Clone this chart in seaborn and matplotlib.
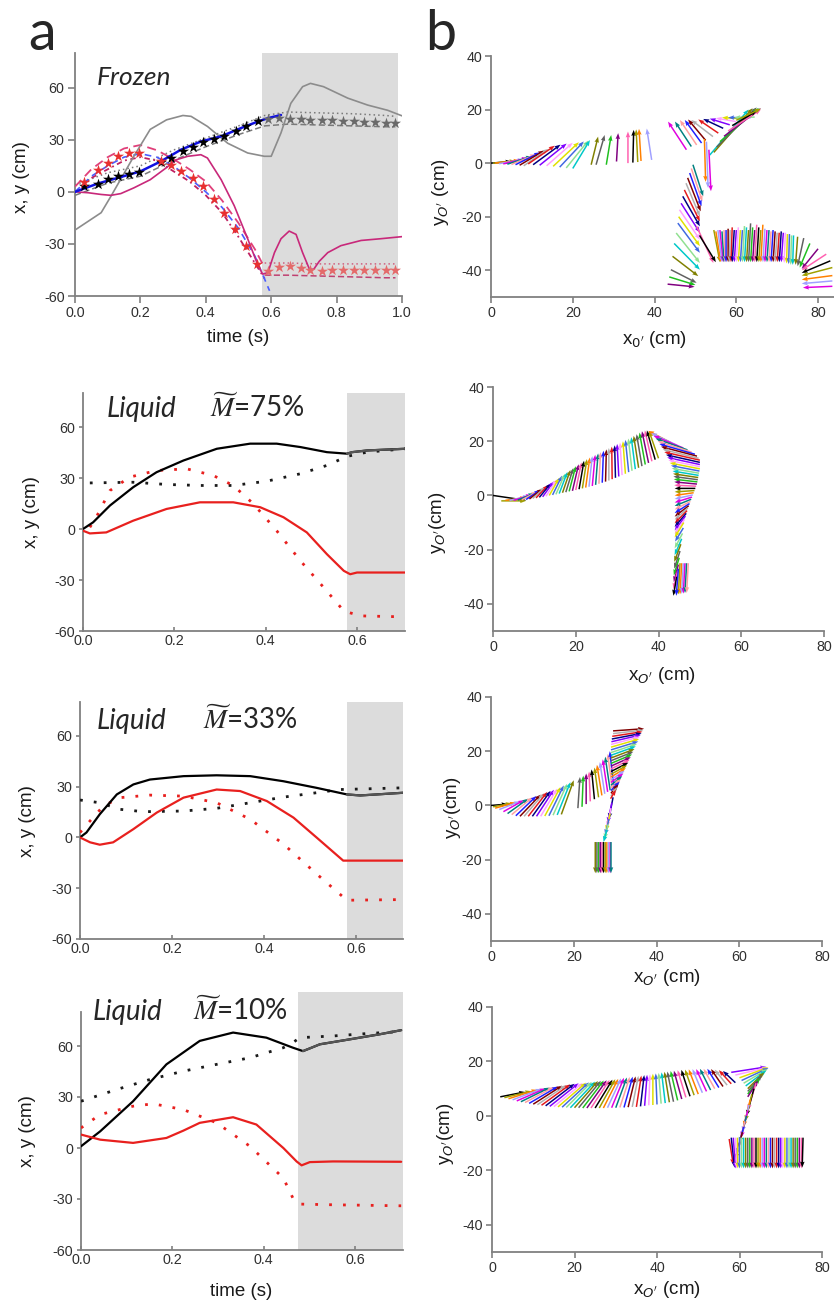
import numpy as np
import pandas as pd
import matplotlib
matplotlib.use("Agg")
import matplotlib.pyplot as plt
from matplotlib.ticker import MultipleLocator
import seaborn as sns

sns.set_theme(style="ticks")
plt.rcParams["font.family"] = ["Liberation Sans", "DejaVu Sans"]
plt.rcParams["axes.unicode_minus"] = False

# ---------------- DATA: panel a (time series) ----------------
# Frozen
fz_gray_t = [0, 0.08, 0.11, 0.18, 0.23, 0.28, 0.33, 0.355, 0.405, 0.467, 0.528, 0.579, 0.6, 0.63, 0.66, 0.696, 0.72, 0.76, 0.834, 0.895, 0.956, 1.0]
fz_gray_y = [-22, -12, -2.5, 20.5, 36, 41.5, 44, 43.5, 37.7, 28, 22.4, 20.5, 20.5, 34, 51, 60.6, 62.5, 60.6, 54, 50, 47, 43.8]
fz_mag_t = [0, 0.04, 0.08, 0.11, 0.14, 0.18, 0.23, 0.28, 0.31, 0.345, 0.385, 0.405, 0.447, 0.487, 0.528, 0.56, 0.574, 0.59, 0.61, 0.63, 0.655, 0.676, 0.696, 0.717, 0.73, 0.747, 0.773, 0.813, 0.875, 0.935, 1.0]
fz_mag_y = [0, -0.5, -1.5, -2, -1, 2.3, 7, 14, 18.5, 20.5, 21.4, 19.5, 7, -8, -27, -42.6, -47.4, -46.5, -35, -27, -22.6, -24.5, -35, -44.6, -44.6, -40, -35, -31, -28, -27, -25.8]
fz_blue_t = [0, 0.07, 0.13, 0.2, 0.263, 0.324, 0.385, 0.447, 0.507, 0.559, 0.589, 0.63]
fz_blue_y = [0, 4.8, 8, 11.8, 17.6, 24.3, 29, 32, 36.7, 40.5, 42.4, 44.3]
fz_bstar_t = [0.029, 0.069, 0.1, 0.13, 0.166, 0.197, 0.263, 0.293, 0.329, 0.36, 0.39, 0.426, 0.457, 0.493, 0.523, 0.559]
fz_bstar_y = [3.2, 4.8, 7.5, 9, 10.3, 11.3, 17, 19.5, 23.7, 25.8, 28.5, 30.6, 32.1, 35, 38.2, 40.7]
fz_gstar_t = [0.59, 0.625, 0.658, 0.69, 0.72, 0.755, 0.787, 0.82, 0.852, 0.885, 0.918, 0.95, 0.98]
fz_gstar_y = [42, 42.5, 42, 41.8, 41.5, 41.5, 41.3, 41, 40.8, 40.5, 40.2, 39.8, 39.5]
fz_rstar_t = [0.029, 0.069, 0.1, 0.13, 0.166, 0.197, 0.263, 0.293, 0.324, 0.36, 0.39, 0.426, 0.457, 0.49, 0.523, 0.556]
fz_rstar_y = [5.5, 12.8, 16.6, 20.5, 22.4, 22.4, 17.6, 15.7, 11.9, 8, 3.2, -4.4, -12, -21.6, -31, -41.7]
fz_pstar_t = [0.59, 0.625, 0.658, 0.69, 0.72, 0.755, 0.787, 0.82, 0.852, 0.885, 0.918, 0.95, 0.98]
fz_pstar_y = [-45.5, -43.5, -43, -44, -45, -45.5, -45, -45, -45, -45, -45, -45, -45]
fz_pk_up_t = [0, 0.05, 0.1, 0.15, 0.2, 0.25, 0.3, 0.35, 0.4, 0.45, 0.5, 0.55, 0.575]
fz_pk_up_y = [3, 13, 20, 25, 27, 24, 19, 13, 6, -5, -18, -33, -42]
fz_pk_lo_t = [0.02, 0.05, 0.1, 0.15, 0.2, 0.25, 0.3, 0.35, 0.4, 0.45, 0.5, 0.55, 0.58]
fz_pk_lo_y = [2, 8, 13, 18, 20, 18, 12, 6, -2, -12, -26, -41, -50]
fz_bd_t = [0, 0.05, 0.1, 0.15, 0.2, 0.25, 0.3, 0.35, 0.4, 0.45, 0.5, 0.55, 0.595]
fz_bd_y = [0, 9, 15, 20, 22, 20, 15, 8, 0, -9, -21, -37, -57]
fz_gd_t = [0, 0.1, 0.2, 0.3, 0.4, 0.5, 0.58, 0.65, 0.75, 0.85, 0.95, 0.98]
fz_gd_up_y = [4, 11, 15, 24, 31, 38, 44, 46, 45.5, 45, 44, 43.5]
fz_gd_lo_y = [-2, 5, 9, 18, 26, 33, 38, 39, 38.5, 38, 37.5, 37.5]
fz_pd_t = [0.58, 0.65, 0.75, 0.85, 0.95, 0.98]
fz_pd_up_y = [-41, -41, -41.5, -41.5, -41.5, -41.5]
fz_pd_lo_y = [-48, -48, -48.5, -49, -49.5, -49.5]

# Liquid 75%
l75_bk_t = [0, 0.022, 0.059, 0.11, 0.161, 0.22, 0.293, 0.366, 0.424, 0.476, 0.534, 0.578, 0.589, 0.622, 0.706]
l75_bk_y = [0, 3.9, 13.8, 24.6, 33.4, 40.3, 47.2, 50.2, 50.2, 48.2, 45.2, 44.3, 45.2, 46.2, 47.2]
l75_bd_t = [0.015, 0.06, 0.11, 0.183, 0.256, 0.329, 0.402, 0.476, 0.534, 0.578, 0.622, 0.706]
l75_bd_y = [27.1, 27.3, 27.5, 26.2, 25.6, 25.6, 28.1, 32.5, 37.4, 42.7, 45.2, 47.2]
l75_rd_t = [0, 0.015, 0.051, 0.11, 0.183, 0.256, 0.329, 0.388, 0.439, 0.49, 0.534, 0.571, 0.585, 0.6, 0.706]
l75_rd_y = [-1, -2.6, -2, 4.9, 11.8, 15.7, 15.7, 12.8, 6.9, -2, -14.8, -24.6, -26.6, -25.6, -25.6]
l75_rdot_t = [0.015, 0.029, 0.059, 0.102, 0.161, 0.227, 0.285, 0.329, 0.373, 0.424, 0.476, 0.527, 0.571, 0.607, 0.706]
l75_rdot_y = [1, 6.9, 22.6, 30.5, 34.4, 35.4, 31.5, 25.6, 14.8, -1, -18.7, -34.4, -48.2, -51.1, -51.7]

# Liquid 33%
l33_bk_t = [0, 0.014, 0.043, 0.08, 0.116, 0.152, 0.225, 0.297, 0.37, 0.442, 0.514, 0.58, 0.609, 0.645, 0.703]
l33_bk_y = [0, 2.9, 13.7, 25.4, 31.3, 34.2, 36.2, 36.7, 36.2, 33.2, 29.3, 25.4, 24.8, 25.4, 26.4]
l33_bd_t = [0, 0.043, 0.087, 0.138, 0.225, 0.297, 0.37, 0.442, 0.514, 0.565, 0.623, 0.703]
l33_bd_y = [22.1, 20.5, 16.6, 15.2, 15.6, 17.2, 20.5, 23.8, 26.4, 28.3, 28.7, 29.3]
l33_rd_t = [0, 0.022, 0.043, 0.072, 0.116, 0.167, 0.225, 0.297, 0.348, 0.406, 0.464, 0.514, 0.572, 0.703]
l33_rd_y = [0, -2.9, -4.3, -2.9, 4.9, 14.7, 23.5, 28.3, 27.4, 21.5, 11.7, 0, -13.7, -13.7]
l33_rdot_t = [0, 0.022, 0.051, 0.087, 0.152, 0.225, 0.297, 0.37, 0.442, 0.514, 0.58, 0.703]
l33_rdot_y = [2.9, 9.8, 18.6, 23.5, 25, 24.4, 20.5, 10.7, -3.9, -21.5, -37.1, -36.7]

# Liquid 10%
l10_bk_t = [0, 0.042, 0.114, 0.187, 0.26, 0.333, 0.406, 0.464, 0.486, 0.501, 0.523, 0.588, 0.654, 0.701]
l10_bk_y = [1, 9.8, 27.5, 49.2, 63, 67.9, 64.9, 59, 57, 58.6, 61, 63.9, 66.9, 69.3]
l10_bd_t = [0, 0.078, 0.151, 0.224, 0.297, 0.37, 0.443, 0.464, 0.479, 0.552, 0.625, 0.701]
l10_bd_y = [27.5, 34.4, 40.3, 45.2, 49.2, 53.1, 59, 62, 64.9, 65.9, 67.3, 68.5]
l10_rd_t = [0, 0.042, 0.114, 0.187, 0.224, 0.26, 0.333, 0.384, 0.443, 0.472, 0.483, 0.501, 0.552, 0.701]
l10_rd_y = [7.9, 4.9, 3, 5.9, 10.2, 14.8, 18.1, 13.8, 0, -7.9, -10.2, -8.3, -7.9, -8.1]
l10_rdot_t = [0, 0.042, 0.114, 0.158, 0.224, 0.297, 0.37, 0.443, 0.464, 0.479, 0.552, 0.701]
l10_rdot_y = [11.8, 19.7, 24.6, 26, 22.6, 14.8, 1, -17.7, -29.5, -33, -33.4, -34]

# shaded (post-release) intervals
shade_frozen = (0.572, 0.988)
shade_75 = (0.578, 0.705)
shade_33 = (0.58, 0.702)
shade_10 = (0.475, 0.705)

a_xticks_frozen = [0.0, 0.2, 0.4, 0.6, 0.8, 1.0]
a_xticks_liquid = [0.0, 0.2, 0.4, 0.6]
a_yticks = [-60, -30, 0, 30, 60]
b_xticks = [0, 20, 40, 60, 80]
b_yticks = [-40, -20, 0, 20, 40]

# ---------------- DATA: panel b (arrows: tail x, tail y, head x, head y) ----------------
b1_arrows = [
    (0, 0, 5, 0.6), (0.5, 0, 6, 0.8), (1, 0, 7, 1), (2, -0.2, 8, 1.4), (3, -0.3, 9, 2), (4, -0.4, 10, 2.6),
    (5, -0.5, 11, 3.3), (6, -0.6, 12, 4), (7, -0.8, 13, 4.7), (8, -1, 14, 5.3),
    (9.1, -0.3, 15.6, 6.5), (10.3, -0.6, 17, 6.9), (11.9, -0.8, 18.5, 7.3), (13.6, -1, 20, 7.6),
    (15.2, -1.2, 21.5, 7.8), (16.8, -1.5, 22.7, 8.1), (18.4, -1.8, 23.8, 8.4), (20, -2, 24.2, 8.6),
    (24.5, -0.6, 26.2, 9.9), (25.7, -0.6, 27.8, 10.5), (28.2, -0.6, 29.4, 10.5), (30.7, 0.6, 31.1, 11.2),
    (33.5, 0, 33.5, 11.8), (34.7, 0.2, 34.9, 12.4), (35.9, 0.4, 35.5, 12.6), (36.7, 0.8, 36.2, 12.8), (39.3, 1.2, 38.1, 12.9),
    (47.8, 5, 43.3, 15.5), (49, 6.2, 45, 15.5), (50.3, 6.8, 46.2, 16.1), (51.5, 7.5, 47.4, 16.1), (52.5, 8.5, 48.2, 16.3),
    (54.3, 9.9, 49, 16.1), (55.6, 11.2, 50.7, 16.3), (56.8, 13, 51.9, 16.5), (58.4, 14.3, 53.5, 16.6),
    (60, 15.5, 55, 16.8), (62, 16.5, 56.5, 17), (63.5, 17, 58, 17), (64.5, 17.2, 59.5, 17),
    (53.5, 3, 63, 20), (54.5, 4, 64, 20.5), (55.2, 6, 65, 20.8), (56, 8, 65.5, 20.6), (57, 10, 66, 20.5),
    (58, 12, 66, 20), (59, 14, 65, 19.5), (60, 16, 66, 20.3),
    (52.2, 9, 52.5, -7), (52.7, 8, 53.1, -9.3), (53.3, 5, 53.8, -10.5),
    (49.4, -0.6, 51.9, -12.4), (49, -2, 51.7, -14.3), (48.6, -3.7, 51.5, -16.1), (48.1, -5.5, 51.3, -18),
    (47.7, -7.5, 51.1, -19.9), (47.3, -10, 51.1, -21.8), (46.9, -12.4, 51.1, -23.6), (46.5, -15, 51.1, -26),
    (46.1, -17.4, 51.1, -28.6), (45.9, -20, 51.1, -31), (45.7, -22.4, 51.1, -33.5), (45.3, -26.1, 51.1, -37.3),
    (44.8, -30, 51.1, -39.8), (44.4, -34.8, 50.7, -42.2), (44, -39.8, 50.3, -44.7), (43.6, -42.5, 50, -45.5),
    (43.2, -45.2, 49.8, -46.2),
    (50.3, -23.6, 54.4, -37.3), (51, -27, 55, -37),
    (54.5, -25, 56, -37), (55, -25.5, 56.2, -37), (55.5, -25, 56.5, -37), (56, -25, 56.8, -37), (56.5, -25.5, 57, -37),
    (57, -25, 57.3, -37), (57.5, -25, 57.5, -37), (58, -24.5, 58, -37), (58.5, -25, 58.3, -37), (59, -24, 58.7, -37),
    (59.5, -25, 59, -37), (60, -25, 59.5, -37), (60.5, -24, 60, -37), (61, -25, 60.5, -37), (61.5, -25, 61, -37),
    (62, -23.5, 61.5, -37), (62.5, -24, 62, -37), (63, -25, 62.5, -37), (63.5, -22.5, 63, -37), (64, -24, 63.5, -37),
    (64.5, -25, 64, -37), (65, -23, 64.5, -37), (65.5, -24, 65, -37), (66, -25, 65.5, -37), (66.5, -23, 66, -37),
    (67, -24.5, 66.5, -37), (67.5, -25, 67, -37), (68, -25, 67.5, -37), (68.5, -25.5, 68, -37), (69, -25, 68.5, -37),
    (69.5, -25.5, 69, -37), (70, -26, 69.5, -37), (70.5, -26, 70, -37), (71, -25.5, 70.5, -37), (71.5, -26, 71, -37),
    (72, -26, 71.7, -37.3), (72.5, -26.5, 72.3, -37.5), (73, -26.5, 72.8, -37.7), (73.5, -27, 73.3, -38),
    (74, -27, 73.8, -38), (75, -27.5, 74.5, -38),
    (76.5, -28, 75, -38.5), (78, -30, 75.5, -39), (80, -32, 76, -39.5), (82, -34, 76, -40), (83, -36.5, 76, -41),
    (83.5, -39, 76, -42), (83.5, -42, 76, -43.5), (83.5, -44, 76, -45), (83.5, -46, 76.3, -46.5),
]

b2_arrows = [
    (0, 0, 8, -1.8), (2, -2, 8, -2),
    (3, -1.8, 8, -0.8), (4, -1.8, 8.7, -0.2), (5, -1.8, 9.4, 0.3), (6, -1.7, 10, 0.8), (7, -1.6, 10.7, 1.4),
    (8, -1.5, 11.4, 2), (8.8, -1.3, 12, 2.5), (9.6, -1.1, 12.7, 3.2), (10.4, -0.9, 13.4, 3.9), (11.2, -0.7, 14, 4.5),
    (12, -0.5, 14.7, 5.2), (12.8, -0.3, 15.4, 5.9), (13.6, 0, 16, 6.5), (14.4, 0.2, 16.7, 7.3), (15.2, 0.4, 17.4, 8),
    (16, 0.7, 18, 8.7), (16.8, 1, 18.7, 9.4), (17.6, 1.2, 19.4, 10.1), (18.4, 1.5, 20, 10.8), (19.2, 1.7, 20.7, 11.5),
    (20, 2, 21.4, 12.2), (20.8, 2.3, 22, 12.8), (21.6, 2.6, 22.7, 13.4), (22.4, 2.9, 23.4, 14), (23.2, 3.2, 24, 14.5),
    (24, 3.5, 24.7, 15), (24.8, 3.9, 25.4, 15.5), (25.6, 4.3, 26, 16), (26.4, 4.7, 26.7, 16.5), (27.2, 5.1, 27.4, 17),
    (28, 5.5, 28, 17.5), (28.8, 6, 28.7, 18), (29.6, 6.5, 29.4, 18.5), (30.4, 7, 30, 19), (31.2, 7.5, 30.7, 19.5),
    (32, 8, 31.4, 20), (32.8, 8.6, 32, 20.5), (33.6, 9.1, 32.7, 21), (34.4, 9.7, 33.4, 21.5), (35.2, 10.2, 34, 22),
    (36, 10.8, 34.7, 22.6), (36.8, 11.4, 35.4, 23.2), (37.6, 12, 36, 23.7), (38.4, 12.6, 36.7, 24), (39.2, 13.2, 37.2, 24),
    (40, 13.7, 37.7, 23.8),
    (43, 19.5, 37.5, 23.8), (44.5, 18.5, 38.2, 23), (46, 17.5, 38.8, 22), (47, 16.8, 39.3, 21), (48, 16, 39.8, 20),
    (48.8, 15.2, 40.2, 19), (49.3, 14.5, 40.6, 18), (49.7, 13.7, 41, 17), (50, 13, 41.4, 16), (50, 12.2, 41.8, 15),
    (50, 11.4, 42.1, 14), (50, 10.6, 42.4, 13), (50, 9.8, 42.7, 12), (49.9, 9, 43, 11), (49.8, 8.2, 43.2, 10),
    (49.7, 7.4, 43.4, 9), (49.6, 6.6, 43.5, 8), (49.5, 5.8, 43.6, 7), (49.4, 5, 43.7, 6), (49.3, 4.2, 43.8, 5),
    (49.1, 3.4, 43.8, 3.8), (48.9, 2.6, 43.9, 2.6), (48.7, 1.8, 43.9, 1.3), (48.5, 1, 43.9, 0), (48.3, 0.2, 43.9, -1.3),
    (48.1, -0.6, 43.9, -2.6), (47.9, -1.4, 43.9, -3.9), (47.7, -2.2, 43.9, -5.2), (47.5, -3, 43.9, -6.5),
    (47.3, -3.8, 43.9, -7.8), (47.1, -4.6, 43.9, -9), (46.9, -5.6, 43.9, -10.3), (46.7, -6.6, 43.9, -11.6),
    (46.5, -7.6, 43.9, -12.9), (46.3, -8.8, 43.9, -14.2), (46.1, -10, 43.9, -15.5),
    (46, -12, 44, -17), (45.8, -14, 43.9, -19.5), (45.6, -16, 43.9, -22), (45.4, -18, 43.8, -24.5),
    (45.2, -20.5, 43.8, -27), (45, -23, 43.7, -29.5), (44.8, -25.5, 43.7, -32), (44.6, -28, 43.6, -34.5),
    (44.4, -30, 43.6, -37),
    (45.2, -25, 44.8, -36.5), (45.6, -25, 45.2, -36.5), (46, -25, 45.6, -36.3), (46.4, -25, 46, -36.2),
    (46.8, -25, 46.4, -36), (47.2, -25, 46.8, -36), (44.8, -27, 44.3, -37),
]

b3_arrows = [
    (0, 0, 4, 0.5), (0.5, -0.5, 5, 0.8), (1, -1, 6, 1.1), (2, -1.5, 7, 1.5), (3, -2.3, 8, 2), (4, -3, 9, 2.5),
    (5, -3.4, 10, 3), (6, -3.8, 11, 3.5), (7, -4, 12, 4), (8, -4, 12.8, 4.5), (9, -4, 13.6, 5), (10, -4, 14.4, 5.4),
    (11, -4, 15.2, 5.8), (12, -4, 16, 6.2), (13, -3.9, 16.8, 6.8), (14, -3.8, 17.6, 7.4), (15, -3.6, 18.4, 8),
    (16, -3.5, 19.2, 8.6), (17, -3.3, 20, 9.3),
    (21, -1, 21.5, 10.5), (22, -0.5, 22.3, 11), (23, 0.5, 23, 11.8), (24, 1.5, 23.7, 12.5), (25, 2.3, 24.3, 13.3),
    (26, 3, 25, 14), (26.8, 3.7, 25.6, 15), (27.5, 4.3, 26.3, 16), (28.2, 5, 27, 17), (28.8, 5.6, 27.6, 18),
    (29.3, 6.2, 28.2, 19), (29.7, 6.8, 28.7, 20),
    (29.5, 27.5, 37, 28.3), (29.5, 26.5, 36.8, 27.8), (29.3, 25.5, 36.6, 27.2), (29.2, 24.5, 36.4, 26.6),
    (29.1, 23.5, 36.2, 26), (29, 22.5, 36, 25.3), (29, 21.5, 35.8, 24.5), (29, 20.5, 35.6, 23.6),
    (29, 19.5, 35.3, 22.7), (29, 18.5, 35, 21.8), (29, 17.5, 34.7, 20.8), (29, 16.5, 34.4, 19.8),
    (29, 15.5, 34.1, 18.8), (29, 14.5, 33.8, 17.8), (29, 13.5, 33.5, 16.8), (29, 12.5, 33.2, 15.8),
    (29, 11.5, 32.9, 14.8), (29, 10.5, 32.6, 13.8), (29, 9.5, 32.3, 12.8), (29, 8.5, 32, 11.8),
    (29, 7.5, 31.7, 10.8), (29, 6.5, 31.4, 9.8), (29, 5.5, 31.1, 8.8), (29, 4.5, 30.8, 7.8),
    (29, 3.5, 30.5, 6.8), (28.9, 2.5, 30.2, 5.8),
    (29.5, 3, 28.5, -5), (29.2, 1, 28.2, -6.5), (29, -1, 28, -8), (28.8, -3, 27.8, -9.5), (28.5, -5, 27.6, -11),
    (28.3, -7, 27.4, -12.5), (28, -9, 27.2, -13.5),
    (25.2, -13.5, 25.2, -25), (25.6, -13.5, 25.6, -25), (26, -13.5, 26, -25), (26.4, -13.5, 26.4, -25),
    (26.8, -13.5, 26.8, -25), (27.2, -13.5, 27.2, -25), (27.6, -13.5, 27.6, -25), (28, -13.5, 28, -25),
    (28.4, -13.5, 28.4, -25), (28.8, -13.5, 28.8, -25), (29, -13.5, 29, -25),
]

b4_arrows = [
    (2, 7, 8, 8.8), (3, 6.7, 9.5, 9.1), (4, 6.3, 11, 9.6), (5, 5.9, 12, 9.9), (6, 5.5, 13, 10.1), (7, 5.2, 14, 10.4),
    (8, 4.9, 15, 10.6), (9, 4.6, 16, 10.8), (10, 4.3, 17, 11.1), (11, 4.1, 18, 11.3), (12, 3.9, 19, 11.6),
    (13, 3.7, 20, 11.8), (14, 3.5, 21, 12), (15, 3.4, 22, 12.1), (16, 3.3, 22.8, 12.2), (17, 3.2, 23.5, 12.3),
    (18, 3.1, 24.2, 12.5), (19, 3, 25, 12.6), (20, 3, 25.7, 12.8), (21, 3, 26.4, 12.9), (22, 2.9, 27.1, 13),
    (23, 2.9, 27.8, 13.1), (24, 2.9, 28.5, 13.2), (25, 2.9, 29.2, 13.3), (26, 2.9, 29.9, 13.5), (27, 2.9, 30.6, 13.6),
    (28, 3, 31.3, 13.8), (29, 3, 32, 14), (30, 3, 32.7, 14.1), (31, 3.1, 33.4, 14.3), (32, 3.1, 34.1, 14.4),
    (33, 3.2, 34.8, 14.5), (34, 3.3, 35.5, 14.7), (35, 3.3, 36.2, 14.8), (36, 3.5, 36.9, 15), (37, 3.7, 37.6, 15.1),
    (38, 3.9, 38.3, 15.3), (39, 4, 39, 15.5), (40, 4.2, 39.7, 15.6), (41, 4.5, 40.4, 15.8), (42, 4.7, 41.1, 16),
    (43, 5, 41.8, 16.2), (44, 5.2, 42.5, 16.3), (45, 5.7, 43.3, 16.5), (46, 6.2, 44.1, 16.6), (47, 6.8, 45, 16.8),
    (48, 7.2, 45.9, 16.9), (49, 7.6, 46.8, 17), (50, 8, 47.7, 17.1), (51, 8.5, 48.6, 17.2), (52, 9, 49.5, 17.2),
    (53, 9.5, 50.4, 17.3), (54, 10, 51.3, 17.3), (55, 10.4, 52.2, 17.3), (56, 10.8, 53.1, 17.2), (57, 11.3, 54, 17),
    (58, 11.8, 55, 16.8), (59, 12.2, 56, 16.5),
    (58, 16, 66.5, 18), (59, 15, 66.8, 17.8), (60, 14, 67, 17.8), (60.5, 13, 67, 17.6), (61, 12, 66.8, 17.2),
    (61.5, 11, 66.5, 16.7), (62, 10, 66, 16), (62, 9, 65.5, 15), (62, 8, 65, 14), (62, 7, 64.5, 13),
    (64, 12, 62, 2), (63.5, 10, 61.7, 0), (63, 8, 61.4, -2), (62.6, 6, 61, -4), (62.3, 4, 60.7, -6), (62, 2, 60.4, -8),
    (61.7, 0, 60, -10), (61.3, -2, 59.6, -12), (61, -4, 59.3, -14), (60.7, -6, 59, -16), (60.4, -8, 58.8, -18),
    (57.5, -8.5, 58.5, -18), (58, -8, 58.8, -19), (58.5, -8, 59, -19.3), (59, -8, 59.3, -19.3), (59.5, -8, 59.6, -19.3),
    (60, -8, 60, -19.3), (60.5, -8, 60.5, -19.3), (61, -8, 61, -19.3), (61.5, -8, 61.5, -19.3), (62, -8, 62, -19.3),
    (62.5, -8, 62.5, -19.3), (63, -8, 63, -19.3), (63.5, -8, 63.5, -19.3), (64, -8, 64, -19.3), (64.5, -8, 64.5, -19.3),
    (65, -8, 65, -19.3), (65.5, -8, 65.5, -19.3), (66, -8, 66, -19.3), (66.5, -8, 66.5, -19.3), (67, -8, 67, -19.3),
    (67.5, -8, 67.5, -19.3), (68, -8, 68, -19.3), (68.5, -8, 68.5, -19.3), (69, -8, 69, -19.3), (69.5, -8, 69.5, -19.3),
    (70, -8, 70, -19.3), (70.5, -8, 70.5, -19.3), (71, -8, 71, -19.3), (71.5, -8, 71.5, -19.3), (72, -8, 72, -19.3),
    (72.5, -8, 72.5, -19.3), (73, -8, 73, -19.3), (73.5, -8, 73.5, -19.3), (74, -8, 74, -19.3), (74.5, -8, 74.5, -19.3),
    (75, -8, 75, -19.3), (75.4, -8, 75.2, -19),
]

PALETTE = ["#000000", "#e41a1c", "#1fbf1f", "#1f1fff", "#00c8c8", "#e000e0", "#e0e000", "#a0a000", "#000080",
           "#800080", "#800000", "#808000", "#008080", "#4169e1", "#ff8000", "#8000ff", "#ff60b0", "#b0b0b0",
           "#606060", "#ffa0a0", "#90e090", "#a0a0ff", "#ffa0ff"]

# ---------------- FIGURE ----------------
W, H = 834, 1307
fig = plt.figure(figsize=(W / 100, H / 100), dpi=100)


def add_ax(l, t, r, b):
    return fig.add_axes([l / W, 1 - b / H, (r - l) / W, (b - t) / H])


def ftext(x, y, s, **kw):
    return fig.text(x / W, 1 - y / H, s, **kw)


SPINE = "#808080"
SHADE = "#dcdcdc"
RED = "#e8201e"
LABEL_FS = 13.5


def style(ax, xdir="out", xlen=5, ylen=5):
    for s in ["top", "right"]:
        ax.spines[s].set_visible(False)
    for s in ["left", "bottom"]:
        ax.spines[s].set_color(SPINE)
        ax.spines[s].set_linewidth(1.3)
    ax.tick_params(which="major", width=1.2, color=SPINE, labelsize=10.3, labelcolor="#303030", pad=2.5)
    ax.tick_params(axis="x", which="major", direction=xdir, length=xlen)
    ax.tick_params(axis="y", which="major", direction="out", length=ylen)
    ax.grid(False)
    ax.set_xlabel("")
    ax.set_ylabel("")


def line(ax, t, y, color, lw=1.6, ls="-", z=3):
    sns.lineplot(x=np.asarray(t, float), y=np.asarray(y, float), ax=ax, color=color, lw=lw,
                 linestyle=ls, sort=False, estimator=None, zorder=z)


def split_line(ax, t, y, t0, c_pre, c_post, lw=1.6):
    t = np.asarray(t, float)
    y = np.asarray(y, float)
    line(ax, t, y, c_pre, lw=lw)
    m = t >= t0
    line(ax, t[m], y[m], c_post, lw=lw, z=4)


DOT = (0, (1, 4))


def setup_a(ax, xmax, xticks, shade, shade_top=1.0):
    ax.set_xlim(0, xmax)
    ax.set_ylim(-60, 80)
    ax.set_xticks(xticks)
    ax.set_xticklabels([f"{v:.1f}" for v in xticks])
    ax.set_yticks(a_yticks)
    p = ax.axvspan(shade[0], shade[1], ymin=0, ymax=shade_top, color=SHADE, lw=0, zorder=0)
    p.set_clip_on(False)


# ---- a1: Frozen
ax = add_ax(75, 53, 402, 296)
setup_a(ax, 1.0, a_xticks_frozen, shade_frozen)
line(ax, fz_gd_t, fz_gd_up_y, "#7a7a7a", lw=1.1, ls=(0, (1, 2)))
line(ax, fz_gd_t, fz_gd_lo_y, "#7a7a7a", lw=1.1, ls=(0, (4, 2)))
line(ax, fz_pd_t, fz_pd_up_y, "#d06080", lw=1.1, ls=(0, (1, 2)))
line(ax, fz_pd_t, fz_pd_lo_y, "#c04070", lw=1.1, ls=(0, (4, 2)))
line(ax, fz_pk_up_t, fz_pk_up_y, "#e0407a", lw=1.3, ls=(0, (5, 3)))
line(ax, fz_pk_lo_t, fz_pk_lo_y, "#c02060", lw=1.3, ls=(0, (3, 2, 1, 2)))
line(ax, fz_bd_t, fz_bd_y, "#4a5cff", lw=1.2, ls=(0, (4, 3)))
line(ax, fz_gray_t, fz_gray_y, "#8c8c8c", lw=1.2)
line(ax, fz_mag_t, fz_mag_y, "#c8287a", lw=1.2)
line(ax, fz_blue_t, fz_blue_y, "#1010e0", lw=1.8)
sns.scatterplot(x=fz_bstar_t, y=fz_bstar_y, ax=ax, marker="*", s=70, color="black", linewidth=0, zorder=6)
sns.scatterplot(x=fz_gstar_t, y=fz_gstar_y, ax=ax, marker="*", s=70, color="#6a6a6a", linewidth=0, zorder=6)
sns.scatterplot(x=fz_rstar_t, y=fz_rstar_y, ax=ax, marker="*", s=70, color="#e83030", linewidth=0, zorder=6)
sns.scatterplot(x=fz_pstar_t, y=fz_pstar_y, ax=ax, marker="*", s=70, color="#e46a6a", linewidth=0, zorder=6)
style(ax, xdir="out", xlen=5, ylen=5)

# ---- a2: 75%
ax = add_ax(83, 393, 405, 631)
setup_a(ax, 0.705, a_xticks_liquid, shade_75)
line(ax, l75_bd_t, l75_bd_y, "#1a1a1a", lw=2.0, ls=DOT)
line(ax, l75_rdot_t, l75_rdot_y, RED, lw=2.0, ls=DOT)
split_line(ax, l75_bk_t, l75_bk_y, shade_75[0], "black", "#555555")
line(ax, l75_rd_t, l75_rd_y, RED, lw=1.6)
style(ax, xdir="in", xlen=3, ylen=3)

# ---- a3: 33%
ax = add_ax(80, 702, 403, 939)
setup_a(ax, 0.702, a_xticks_liquid, shade_33)
line(ax, l33_bd_t, l33_bd_y, "#1a1a1a", lw=2.0, ls=DOT)
line(ax, l33_rdot_t, l33_rdot_y, RED, lw=2.0, ls=DOT)
split_line(ax, l33_bk_t, l33_bk_y, shade_33[0], "black", "#555555")
line(ax, l33_rd_t, l33_rd_y, RED, lw=1.6)
style(ax, xdir="in", xlen=3, ylen=3)

# ---- a4: 10%
ax = add_ax(81, 1012, 403, 1250)
setup_a(ax, 0.705, a_xticks_liquid, shade_10, shade_top=(1250 - 992) / (1250 - 1012))
line(ax, l10_bd_t, l10_bd_y, "#1a1a1a", lw=2.0, ls=DOT)
line(ax, l10_rdot_t, l10_rdot_y, RED, lw=2.0, ls=DOT)
split_line(ax, l10_bk_t, l10_bk_y, shade_10[0], "black", "#555555")
line(ax, l10_rd_t, l10_rd_y, RED, lw=1.6)
style(ax, xdir="in", xlen=3, ylen=3)


# ---- panel b
def setup_b(ax, xmax):
    style(ax, xdir="out", xlen=4, ylen=4)
    ax.set_xlim(0, xmax)
    ax.set_ylim(-50, 40)
    ax.set_xticks(b_xticks)
    ax.set_yticks(b_yticks)


def draw_arrows(ax, arr):
    a = np.asarray(arr, float)
    cols = [PALETTE[(i * 7) % len(PALETTE)] for i in range(len(a))]
    ax.quiver(a[:, 0], a[:, 1], a[:, 2] - a[:, 0], a[:, 3] - a[:, 1], color=cols,
              angles="xy", scale_units="xy", scale=1, units="dots", width=1.5,
              headwidth=3.0, headlength=4.0, headaxislength=3.6, zorder=3, clip_on=False)


ax = add_ax(491, 56, 834, 297)
setup_b(ax, 83.9)
draw_arrows(ax, b1_arrows)

ax = add_ax(493, 387, 824, 631)
setup_b(ax, 80)
draw_arrows(ax, b2_arrows)

ax = add_ax(491, 697, 822, 941)
setup_b(ax, 80)
draw_arrows(ax, b3_arrows)

ax = add_ax(492, 1007, 822, 1252)
setup_b(ax, 80)
draw_arrows(ax, b4_arrows)

# ---------------- TEXT ----------------
TFONT = ["Lato", "DejaVu Sans"]
ftext(28, 50, "a", family=TFONT, fontsize=40, va="baseline", ha="left")
ftext(425, 50, "b", family=TFONT, fontsize=40, va="baseline", ha="left")

ftext(97, 85, "Frozen", family=TFONT, style="italic", fontsize=19, va="baseline")
for (xl, xm, yb, s) in [(107, 210, 417, "75%"), (97, 203, 729, "33%"), (93, 193, 1020, "10%")]:
    ftext(xl, yb, "Liquid", family=TFONT, style="italic", fontsize=20, va="baseline")
    ftext(xm, yb, r"$\widetilde{M}$=" + s, family=TFONT, fontsize=20, va="baseline", math_fontfamily="stix")

lab = dict(fontsize=LABEL_FS, color="#1a1a1a", ha="center", va="center")
ftext(22, 177, "x, y (cm)", rotation=90, **lab)
ftext(32, 512, "x, y (cm)", rotation=90, **lab)
ftext(28, 821, "x, y (cm)", rotation=90, **lab)
ftext(28, 1131, "x, y (cm)", rotation=90, **lab)
ftext(238, 338, "time (s)", **lab)
ftext(241, 1292, "time (s)", **lab)

ftext(440, 192, r"y$_{O'}$ (cm)", rotation=90, **lab)
ftext(438, 523, r"y$_{O'}$(cm)", rotation=90, **lab)
ftext(453, 808, r"y$_{O'}$(cm)", rotation=90, **lab)
ftext(446, 1134, r"y$_{O'}$(cm)", rotation=90, **lab)
ftext(655, 340, r"x$_{0'}$ (cm)", **lab)
ftext(662, 675, r"x$_{O'}$ (cm)", **lab)
ftext(667, 977, r"x$_{O'}$ (cm)", **lab)
ftext(667, 1289, r"x$_{O'}$ (cm)", **lab)

fig.savefig("out.png", dpi=100, facecolor="white")
